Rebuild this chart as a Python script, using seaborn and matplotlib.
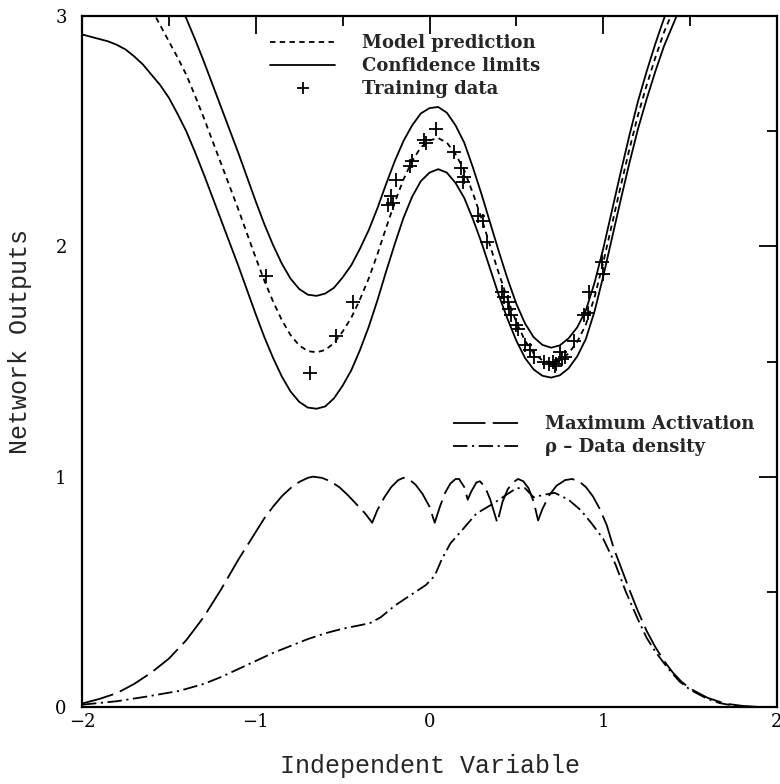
import matplotlib
matplotlib.use("Agg")
import matplotlib.pyplot as plt
import seaborn as sns
import numpy as np
import pandas as pd
from matplotlib.lines import Line2D

# ---- data ----
pred_x = [-1.6, -1.55, -1.5, -1.45, -1.4, -1.35, -1.3, -1.25, -1.2, -1.15, -1.1, -1.05, -1.0, -0.95,
          -0.9, -0.85, -0.8, -0.75, -0.7, -0.65, -0.6, -0.55, -0.5, -0.45, -0.4, -0.35, -0.3, -0.25,
          -0.2, -0.15, -0.1, -0.05, 0.0, 0.05, 0.1, 0.15, 0.2, 0.25, 0.3, 0.35, 0.4, 0.45, 0.5, 0.55,
          0.6, 0.65, 0.7, 0.75, 0.8, 0.85, 0.9, 0.95, 1.0, 1.05, 1.1, 1.15, 1.2, 1.25, 1.3, 1.35, 1.4, 1.45]
pred_y = [3.03, 2.96, 2.89, 2.82, 2.745, 2.655, 2.56, 2.46, 2.36, 2.26, 2.16, 2.055, 1.95, 1.85,
          1.76, 1.68, 1.615, 1.57, 1.545, 1.54, 1.55, 1.58, 1.63, 1.69, 1.77, 1.86, 1.965, 2.08,
          2.19, 2.29, 2.37, 2.43, 2.46, 2.47, 2.45, 2.40, 2.33, 2.23, 2.12, 2.0, 1.88, 1.77, 1.67, 1.59,
          1.535, 1.505, 1.495, 1.505, 1.535, 1.585, 1.66, 1.78, 1.93, 2.095, 2.26, 2.42, 2.57, 2.70, 2.82, 2.93, 3.02, 3.11]

upper_x = [-1.45, -1.4, -1.35, -1.3, -1.25, -1.2, -1.15, -1.1, -1.05, -1.0, -0.95, -0.9, -0.85,
           -0.8, -0.75, -0.7, -0.65, -0.6, -0.55, -0.5, -0.45, -0.4, -0.35, -0.3, -0.25, -0.2, -0.15,
           -0.1, -0.05, 0.0, 0.05, 0.1, 0.15, 0.2, 0.25, 0.3, 0.35, 0.4, 0.45, 0.5, 0.55, 0.6, 0.65,
           0.7, 0.75, 0.8, 0.85, 0.9, 0.95, 1.0, 1.05, 1.1, 1.15, 1.2, 1.25, 1.3, 1.35, 1.4]
upper_y = [3.065, 2.99, 2.90, 2.805, 2.705, 2.605, 2.505, 2.405, 2.30, 2.195, 2.095, 2.005, 1.925,
           1.86, 1.815, 1.79, 1.785, 1.795, 1.82, 1.865, 1.918, 1.99, 2.07, 2.165, 2.27, 2.37, 2.457,
           2.525, 2.577, 2.60, 2.605, 2.58, 2.525, 2.45, 2.342, 2.225, 2.10, 1.975, 1.857, 1.75, 1.665, 1.605, 1.572,
           1.56, 1.57, 1.60, 1.648, 1.722, 1.842, 1.99, 2.155, 2.32, 2.48, 2.63, 2.76, 2.88, 2.99, 3.08]

lower_x = [-2.0, -1.95, -1.9, -1.85, -1.8, -1.75, -1.7, -1.65, -1.6, -1.55, -1.5, -1.45, -1.4, -1.35,
           -1.3, -1.25, -1.2, -1.15, -1.1, -1.05, -1.0, -0.95, -0.9, -0.85, -0.8, -0.75, -0.7, -0.65,
           -0.6, -0.55, -0.5, -0.45, -0.4, -0.35, -0.3, -0.25, -0.2, -0.15, -0.1, -0.05, 0.0, 0.05,
           0.1, 0.15, 0.2, 0.25, 0.3, 0.35, 0.4, 0.45, 0.5, 0.55, 0.6, 0.65, 0.7, 0.75, 0.8, 0.85,
           0.9, 0.95, 1.0, 1.05, 1.1, 1.15, 1.2, 1.25, 1.3, 1.35, 1.4, 1.45]
lower_y = [2.92, 2.91, 2.90, 2.89, 2.875, 2.855, 2.825, 2.79, 2.745, 2.70, 2.645, 2.575, 2.50, 2.41,
           2.315, 2.215, 2.115, 2.015, 1.915, 1.81, 1.705, 1.605, 1.515, 1.435, 1.37, 1.325, 1.30, 1.295,
           1.305, 1.34, 1.395, 1.462, 1.55, 1.65, 1.765, 1.89, 2.01, 2.123, 2.215, 2.283, 2.32, 2.335,
           2.32, 2.275, 2.21, 2.118, 2.015, 1.90, 1.785, 1.683, 1.59, 1.515, 1.465, 1.438, 1.43, 1.44, 1.47, 1.522,
           1.598, 1.718, 1.87, 2.035, 2.20, 2.36, 2.51, 2.64, 2.76, 2.87, 2.96, 3.05]

train_x = [-0.94, -0.69, -0.54, -0.44, -0.24, -0.22, -0.21, -0.19, -0.11, -0.10, -0.03, -0.02, 0.04, 0.14,
           0.18, 0.19, 0.20, 0.28, 0.31, 0.33, 0.42, 0.43, 0.45, 0.46, 0.47, 0.50, 0.51, 0.55, 0.58, 0.60,
           0.66, 0.69, 0.71, 0.72, 0.73, 0.75, 0.76, 0.78, 0.83, 0.89, 0.91, 0.92, 0.99, 1.00]
train_y = [1.87, 1.45, 1.61, 1.76, 2.18, 2.22, 2.19, 2.29, 2.35, 2.37, 2.46, 2.45, 2.51, 2.41,
           2.34, 2.28, 2.30, 2.13, 2.11, 2.02, 1.80, 1.78, 1.76, 1.73, 1.70, 1.66, 1.64, 1.57, 1.55, 1.52,
           1.50, 1.49, 1.50, 1.48, 1.49, 1.54, 1.51, 1.52, 1.59, 1.70, 1.71, 1.80, 1.93, 1.88]

act_x = [-2.0, -1.9, -1.8, -1.7, -1.6, -1.5, -1.4, -1.3, -1.2, -1.1, -1.0, -0.95, -0.9, -0.85, -0.8,
         -0.75, -0.7, -0.67, -0.62, -0.57, -0.52, -0.47, -0.42, -0.37, -0.33, -0.3, -0.26, -0.22, -0.18,
         -0.15, -0.12, -0.08, -0.04, 0.0, 0.03, 0.06, 0.09, 0.12, 0.15, 0.17, 0.2, 0.22, 0.24, 0.27,
         0.29, 0.32, 0.35, 0.39, 0.42, 0.45, 0.48, 0.51, 0.54, 0.57, 0.6, 0.625, 0.65, 0.69, 0.73,
         0.78, 0.82, 0.86, 0.9, 0.94, 0.98, 1.02, 1.06, 1.1, 1.15, 1.2, 1.25, 1.3, 1.35, 1.4, 1.45,
         1.5, 1.6, 1.7, 1.8, 1.9, 2.0]
act_y = [0.015, 0.035, 0.06, 0.10, 0.15, 0.21, 0.29, 0.39, 0.51, 0.64, 0.76, 0.82, 0.87, 0.915, 0.95,
         0.977, 0.995, 1.0, 0.995, 0.98, 0.955, 0.92, 0.88, 0.84, 0.80, 0.855, 0.91, 0.955, 0.985,
         0.995, 0.99, 0.965, 0.925, 0.87, 0.80, 0.87, 0.93, 0.97, 0.99, 0.99, 0.955, 0.90, 0.935, 0.975,
         0.98, 0.955, 0.90, 0.80, 0.89, 0.945, 0.975, 0.99, 0.98, 0.95, 0.89, 0.81, 0.86, 0.92, 0.96,
         0.985, 0.99, 0.98, 0.955, 0.915, 0.86, 0.79, 0.69, 0.61, 0.51, 0.415, 0.33, 0.26, 0.20, 0.15, 0.11,
         0.08, 0.04, 0.015, 0.005, 0.0, 0.0]

dens_x = [-2.0, -1.8, -1.63, -1.44, -1.3, -1.2, -1.1, -1.0, -0.9, -0.8, -0.7, -0.6, -0.5, -0.4, -0.34,
          -0.28, -0.2, -0.1, -0.02, 0.03, 0.07, 0.12, 0.19, 0.27, 0.36, 0.44, 0.5, 0.55, 0.6, 0.65, 0.72,
          0.8, 0.87, 0.93, 1.0, 1.07, 1.13, 1.2, 1.25, 1.3, 1.37, 1.44, 1.5, 1.6, 1.67, 1.75, 1.83, 2.0]
dens_y = [0.01, 0.025, 0.045, 0.07, 0.10, 0.13, 0.165, 0.20, 0.235, 0.265, 0.295, 0.32, 0.34, 0.355, 0.365,
          0.39, 0.44, 0.49, 0.53, 0.57, 0.64, 0.71, 0.77, 0.84, 0.88, 0.92, 0.95, 0.95, 0.91, 0.92, 0.93,
          0.90, 0.855, 0.80, 0.73, 0.62, 0.50, 0.38, 0.30, 0.24, 0.17, 0.11, 0.075, 0.035, 0.017, 0.006, 0.0, 0.0]

x_ticks = [-2, -1, 0, 1, 2]
x_ticklabels = ["\u22122", "\u22121", "0", "1", "2"]
y_ticks = [0, 1, 2, 3]
y_ticklabels = ["0", "1", "2", "3"]

# ---- figure ----
sns.set_style("white")
plt.rcParams["font.family"] = ["DejaVu Serif", "DejaVu Sans"]

fig = plt.figure(figsize=(7.8, 7.84), dpi=100)
ax = fig.add_axes([82 / 780, 1 - 707 / 784, 695 / 780, 691 / 784])

LW = 1.3
DASH = (0, (3.0, 2.4))
LONG = (0, (18, 4))
DASHDOT = (0, (8, 2.5, 1.2, 2.5))
sns.lineplot(x=pred_x, y=pred_y, ax=ax, color="black", lw=LW, sort=False, estimator=None, linestyle=DASH)
sns.lineplot(x=upper_x, y=upper_y, ax=ax, color="black", lw=LW, sort=False, estimator=None)
sns.lineplot(x=lower_x, y=lower_y, ax=ax, color="black", lw=LW, sort=False, estimator=None)
sns.lineplot(x=act_x, y=act_y, ax=ax, color="black", lw=LW, sort=False, estimator=None, linestyle=LONG)
sns.lineplot(x=dens_x, y=dens_y, ax=ax, color="black", lw=LW, sort=False, estimator=None, linestyle=DASHDOT)
sns.scatterplot(x=train_x, y=train_y, ax=ax, marker="+", s=90, color="black", linewidth=1.3, zorder=5)

ax.set_xlim(-2, 2)
ax.set_ylim(0, 3)
ax.set_xticks(x_ticks)
ax.set_xticklabels(x_ticklabels)
ax.set_yticks(y_ticks)
ax.set_yticklabels(y_ticklabels)
ax.set_xticks([-1.5, -0.5, 0.5, 1.5], minor=True)
ax.set_yticks([0.5, 1.5, 2.5], minor=True)
ax.tick_params(which="both", direction="in", top=True, right=True, width=1.3, colors="black",
               labelsize=13)
ax.tick_params(which="major", length=13)
ax.tick_params(which="minor", length=7)
ax.tick_params(axis="x", which="major", pad=4)
ax.tick_params(axis="y", which="major", pad=11)
for sp in ax.spines.values():
    sp.set_linewidth(1.6)
    sp.set_color("black")

mono = ["Liberation Mono", "DejaVu Sans Mono"]
ax.set_xlabel("Independent Variable", family=mono, fontsize=18, labelpad=17)
ax.set_ylabel("Network Outputs", family=mono, fontsize=18)
ax.yaxis.set_label_coords(-0.072, (707 - 342) / 691)

leg_font = {"family": "DejaVu Serif", "weight": "bold", "size": 13}
h1 = [Line2D([], [], color="black", lw=LW, linestyle=DASH),
      Line2D([], [], color="black", lw=LW),
      Line2D([], [], color="black", lw=0, marker="+", markersize=9, markeredgewidth=1.3)]
leg1 = ax.legend(h1, ["Model prediction", "Confidence limits", "Training data"], loc="upper left",
                 bbox_to_anchor=((270 - 82) / 695, (707 - 34) / 691), frameon=False, prop=leg_font,
                 handlelength=3.6, handletextpad=1.5, labelspacing=0.28, borderpad=0, borderaxespad=0)
ax.add_artist(leg1)
h2 = [Line2D([], [], color="black", lw=LW, linestyle=LONG),
      Line2D([], [], color="black", lw=LW, linestyle=DASHDOT)]
ax.legend(h2, ["Maximum Activation", "\u03c1 \u2013 Data density"], loc="upper left",
          bbox_to_anchor=((453 - 82) / 695, (707 - 415) / 691), frameon=False, prop=leg_font,
          handlelength=3.6, handletextpad=1.5, labelspacing=0.28, borderpad=0, borderaxespad=0)

fig.savefig("out.png", dpi=100)
